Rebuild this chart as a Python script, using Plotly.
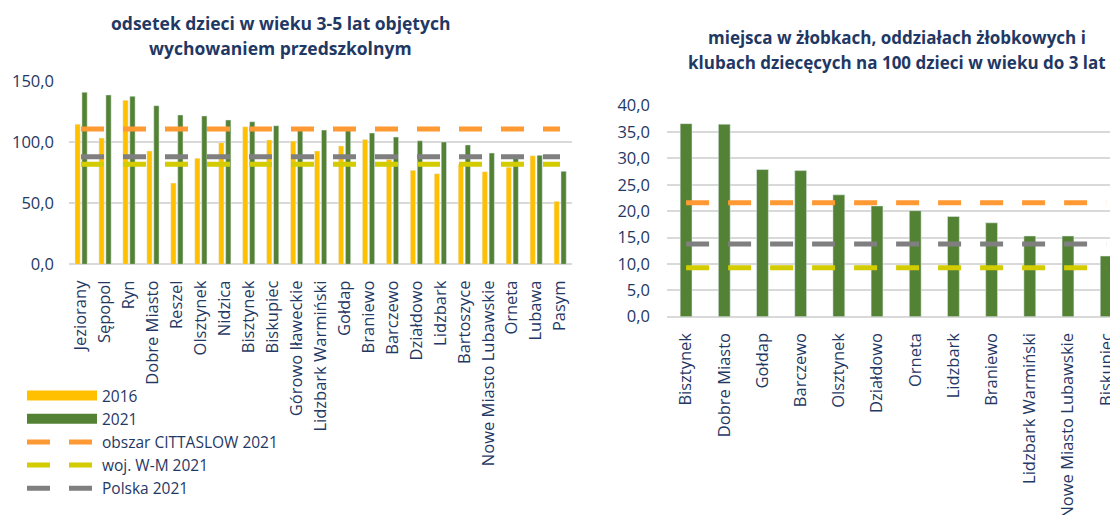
import plotly.graph_objects as go

# ---- Left chart data ----
left_categories = ["Jeziorany", "Sępopol", "Ryn", "Dobre Miasto", "Reszel", "Olsztynek",
                   "Nidzica", "Bisztynek", "Biskupiec", "Górowo Iławeckie",
                   "Lidzbark Warmiński", "Gołdap", "Braniewo", "Barczewo", "Działdowo",
                   "Lidzbark", "Bartoszyce", "Nowe Miasto Lubawskie", "Orneta", "Lubawa",
                   "Pasym"]
left_2016 = [114.8, 103.5, 134.4, 92.9, 66.6, 86.9, 99.7, 112.8, 101.9, 101.0,
             92.9, 97.0, 102.2, 86.0, 77.0, 74.3, 82.0, 75.9, 79.5, 89.0, 51.6]
left_2021 = [141.0, 138.8, 137.7, 130.0, 122.4, 121.6, 118.3, 116.9, 113.6, 110.0,
             110.0, 110.5, 107.6, 104.3, 101.3, 100.3, 97.8, 91.2, 88.0, 89.3, 76.2]
left_cittaslow = 110.9
left_wm = 82.0
left_polska = 88.2

# ---- Right chart data ----
right_categories = ["Bisztynek", "Dobre Miasto", "Gołdap", "Barczewo", "Olsztynek",
                    "Działdowo", "Orneta", "Lidzbark", "Braniewo", "Lidzbark Warmiński",
                    "Nowe Miasto Lubawskie", "Biskupiec"]
right_2021 = [36.6, 36.5, 27.9, 27.7, 23.1, 21.0, 20.1, 19.0, 17.8, 15.3, 15.3, 11.5]
right_cittaslow = 21.6
right_wm = 9.3
right_polska = 13.8

left_title = ["odsetek dzieci w wieku 3-5 lat objętych", "wychowaniem przedszkolnym"]
right_title = ["miejsca w żłobkach, oddziałach żłobkowych i",
               "klubach dziecęcych na 100 dzieci w wieku do 3 lat"]

C_2016 = "#FFC000"
C_2021 = "#548235"
C_ORANGE = "#FF9933"
C_YELLOW = "#D2CC00"
C_GREY = "#7F7F7F"
NAVY = "#1F3864"
FONT = "Open Sans"
DASH = "23px,19px"

W, H = 1110, 515
def px_x(p):
    return p / W
def px_y(p):
    return 1 - p / H

fig = go.Figure()

# Left bars
fig.add_trace(go.Bar(x=left_categories, y=left_2016, name="2016", marker_color=C_2016,
                     width=0.22, offset=-0.25, xaxis="x", yaxis="y", showlegend=False))
fig.add_trace(go.Bar(x=left_categories, y=left_2021, name="2021", marker_color=C_2021,
                     width=0.22, offset=0.04, xaxis="x", yaxis="y", showlegend=False))
# Legend proxies for the bar series (wide solid swatches)
for nm, col in [("2016", C_2016), ("2021", C_2021)]:
    fig.add_trace(go.Scatter(x=[None], y=[None], mode="lines", name=nm,
                             line=dict(color=col, width=10), xaxis="x", yaxis="y"))
# Left reference lines
for val, col, nm in [(left_cittaslow, C_ORANGE, "obszar CITTASLOW 2021"),
                     (left_wm, C_YELLOW, "woj. W-M 2021"),
                     (left_polska, C_GREY, "Polska 2021")]:
    fig.add_trace(go.Scatter(x=left_categories, y=[val] * len(left_categories), mode="lines",
                             name=nm, line=dict(color=col, width=5, dash=DASH),
                             xaxis="x", yaxis="y"))

# Right bars
fig.add_trace(go.Bar(x=right_categories, y=right_2021, name="2021", marker_color=C_2021,
                     width=0.31, offset=-0.155, xaxis="x2", yaxis="y2", showlegend=False))
for val, col, nm in [(right_cittaslow, C_ORANGE, "obszar CITTASLOW 2021"),
                     (right_wm, C_YELLOW, "woj. W-M 2021"),
                     (right_polska, C_GREY, "Polska 2021")]:
    fig.add_trace(go.Scatter(x=right_categories, y=[val] * len(right_categories), mode="lines",
                             name=nm, line=dict(color=col, width=5, dash=DASH),
                             xaxis="x2", yaxis="y2", showlegend=False))

tickfont = dict(family=FONT, size=16.5, color=NAVY)
axis_common = dict(showline=False, ticks="", tickfont=tickfont, fixedrange=True,
                   automargin=False)

annotations = []
for i, line in enumerate(left_title):
    annotations.append(dict(text="<b>%s</b>" % line, x=px_x(280), y=px_y([23, 48][i]),
                            xref="paper", yref="paper", xanchor="center", yanchor="middle",
                            showarrow=False, font=dict(family=FONT, size=17.5, color=NAVY)))
for i, line in enumerate(right_title):
    annotations.append(dict(text="<b>%s</b>" % line, x=px_x(897), y=px_y([37, 62][i]),
                            xref="paper", yref="paper", xanchor="center", yanchor="middle",
                            showarrow=False, font=dict(family=FONT, size=17, color=NAVY)))

fig.update_layout(
    width=W, height=H,
    margin=dict(l=0, r=0, t=0, b=0, autoexpand=False),
    paper_bgcolor="white", plot_bgcolor="white",
    separators=", ",
    barmode="overlay",
    font=dict(family=FONT, color=NAVY),
    xaxis=dict(domain=[px_x(69), px_x(572)], anchor="y", type="category",
               tickangle=-90, range=[-0.5, 20.5], showgrid=False, ticklabelstandoff=12,
               **axis_common),
    yaxis=dict(domain=[px_y(264.3), px_y(81.3)], anchor="x", range=[0, 150], dtick=50,
               tickformat=".1f", showgrid=True, gridcolor="#D9D9D9", gridwidth=1.5,
               zeroline=True, zerolinecolor="#D9D9D9", zerolinewidth=2, ticklabelstandoff=14,
               **axis_common),
    xaxis2=dict(domain=[px_x(667), 1.0], anchor="y2", type="category",
                tickangle=-90, range=[-0.5, 11.1], showgrid=False, ticklabelstandoff=12,
                **axis_common),
    yaxis2=dict(domain=[px_y(316.7), px_y(105.7)], anchor="x2", range=[0, 40], dtick=5,
                tickformat=".1f", showgrid=True, gridcolor="#D9D9D9", gridwidth=1.5,
                zeroline=True, zerolinecolor="#D9D9D9", zerolinewidth=2, ticklabelstandoff=16,
                **axis_common),
    legend=dict(x=px_x(22), y=px_y(379), xanchor="left", yanchor="top",
                orientation="v", itemwidth=70, traceorder="normal",
                font=dict(family=FONT, size=15.5, color=NAVY), bgcolor="rgba(0,0,0,0)",
                tracegroupgap=0),
    annotations=annotations,
    showlegend=True,
)

fig.write_html("out.html", config={"displayModeBar": False},
               post_script="document.body.style.margin='0';document.body.style.overflow='hidden';")
